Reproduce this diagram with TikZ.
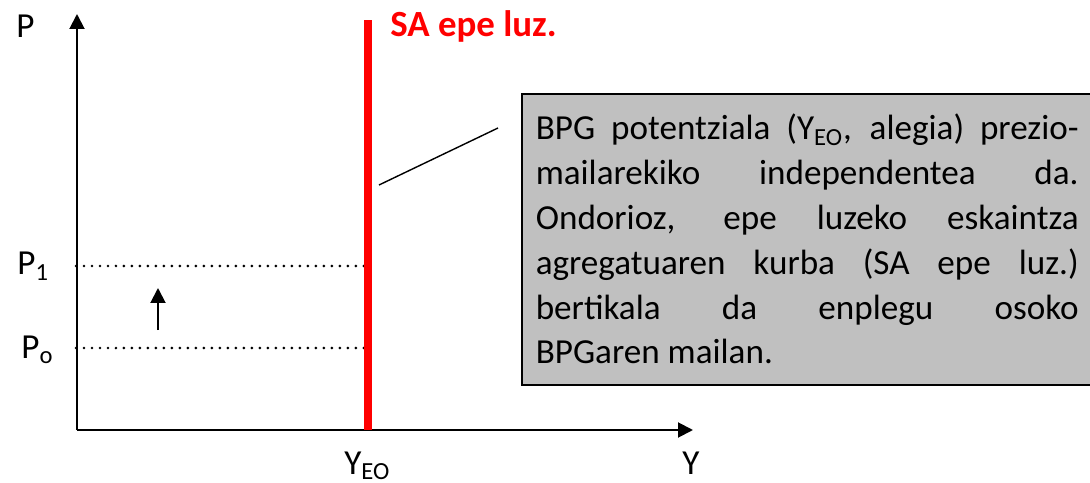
\documentclass[tikz,border=0pt]{standalone}
\usepackage{fontspec}
\setmainfont{Carlito}
\usetikzlibrary{arrows.meta,positioning}
\definecolor{CurveRed}{RGB}{255,0,0}
\definecolor{NoteGray}{RGB}{192,192,192}
\tikzset{
  axis/.style={->,line width=1.1pt},
  guide/.style={line width=1.7pt,line cap=round,dash pattern=on 0pt off 0.16cm},
  lbl/.style={inner sep=0pt,anchor=base west},
  notebox/.style={draw,line width=0.9pt,fill=NoteGray,text width=10.86cm,
    align=justify,inner xsep=0.28cm,inner ysep=0.3cm,minimum height=5.82cm,
    anchor=north west}
}
\begin{document}
\begin{tikzpicture}[x=0.02cm,y=-0.02cm,>={Triangle[length=0.3cm,width=0.3cm]},
    font=\fontsize{20}{22.6}\selectfont]
      \useasboundingbox (0,0) rectangle (1090,483);
      \coordinate (O) at (77,430);
      \coordinate (Ptop) at (77,14);
      \coordinate (Yend) at (693,430);
      \coordinate (EOtop) at (368,20);
      \coordinate (EObot) at (368,430);
      \coordinate (P1a) at (76,266);
      \coordinate (P1b) at (368,266);
      \coordinate (P0a) at (76,348);
      \coordinate (P0b) at (368,348);
      \coordinate (Ua) at (158,330);
      \coordinate (Ub) at (158,288);
      \coordinate (La) at (379,185);
      \coordinate (Lb) at (498,128);
      \draw[guide] (P1a)--(P1b);
      \draw[guide] (P0a)--(P0b);
      \draw[axis] (O)--(Ptop);
      \draw[axis] (O)--(Yend);
      \draw[CurveRed,line width=0.16cm] (EObot)--(EOtop);
      \draw[->,line width=1.1pt] (Ua)--(Ub);
      \draw[line width=0.8pt] (La)--(Lb);
      \node[lbl] (Plab) at (16,38) {P};
      \node[lbl] (P1lab) at (17,275) {P\textsubscript{1}};
      \node[lbl] (P0lab) at (21,358) {P\textsubscript{o}};
      \node[lbl] (YEOlab) at (344,474) {Y\textsubscript{EO}};
      \node[lbl] (Ylab) at (682,474) {Y};
      \node[lbl,text=CurveRed,font=\fontsize{21}{24}\selectfont\bfseries] (SAlab) at (390,37) {SA epe luz.};
      \node[notebox,font=\fontsize{20}{25.5}\selectfont] (note) at (521,93) {BPG potentziala (Y\textsubscript{EO}, alegia) prezio-\linebreak
        mailarekiko independentea da.\linebreak
        Ondorioz, epe luzeko eskaintza\linebreak
        agregatuaren kurba (SA epe luz.)\linebreak
        bertikala da enplegu osoko\linebreak
        BPGaren mailan.};
    \end{tikzpicture}
\end{document}
